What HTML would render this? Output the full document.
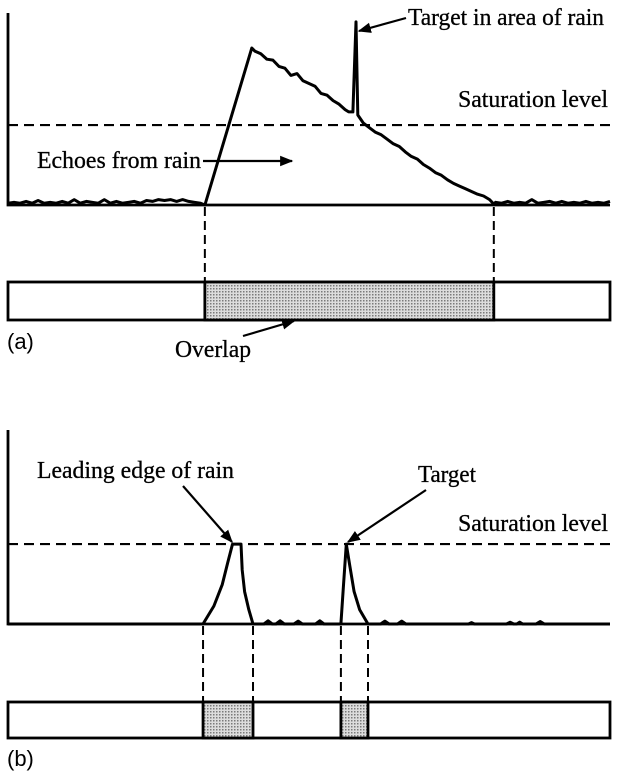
<!DOCTYPE html>
<html><head><meta charset="utf-8"><style>
html,body{margin:0;padding:0;background:#fff}
svg{display:block}
.s{font-family:"Liberation Serif",serif;font-size:24px;fill:#000;stroke:#000;stroke-width:0.3}
.l{font-family:"Liberation Sans",sans-serif;font-size:22px;fill:#000}
</style></head><body>
<svg id="c" width="618" height="771" viewBox="0 0 618 771">
<defs>
<pattern id="dots" width="3" height="3" patternUnits="userSpaceOnUse"><rect width="3" height="3" fill="#dcdcdc"/><rect width="1.5" height="1.5" fill="#7a7a7a"/></pattern>
<marker id="ah" viewBox="0 0 10 10" refX="9" refY="5" markerWidth="6" markerHeight="6" orient="auto"><path d="M0,1 L10,5 L0,9 Z" fill="#000"/></marker>
</defs>
<g id="pa"></g>
<g id="pb"></g>
<text class="s" x="408" y="25" textLength="196" lengthAdjust="spacingAndGlyphs">Target in area of rain</text>
<line x1="406" y1="18" x2="359" y2="31" stroke="#000" stroke-width="2.2" marker-end="url(#ah)"/>
<text class="s" x="458" y="107" textLength="150" lengthAdjust="spacingAndGlyphs">Saturation level</text>
<text class="s" x="37" y="168" textLength="164" lengthAdjust="spacingAndGlyphs">Echoes from rain</text>
<line x1="203" y1="161" x2="292" y2="161" stroke="#000" stroke-width="2.2" marker-end="url(#ah)"/>
<text class="s" x="175" y="357" textLength="76" lengthAdjust="spacingAndGlyphs">Overlap</text>
<line x1="243" y1="336" x2="294" y2="321" stroke="#000" stroke-width="2.2" marker-end="url(#ah)"/>
<text class="l" x="7" y="349">(a)</text>
<text class="s" x="37" y="478" textLength="197" lengthAdjust="spacingAndGlyphs">Leading edge of rain</text>
<line x1="183" y1="486" x2="232" y2="542" stroke="#000" stroke-width="2.2" marker-end="url(#ah)"/>
<text class="s" x="418" y="482" textLength="58" lengthAdjust="spacingAndGlyphs">Target</text>
<line x1="426" y1="490" x2="348" y2="542" stroke="#000" stroke-width="2.2" marker-end="url(#ah)"/>
<text class="s" x="458" y="531" textLength="150" lengthAdjust="spacingAndGlyphs">Saturation level</text>
<text class="l" x="7" y="766">(b)</text>
</svg>
<script>
// ---- data (x: range units 0..100, y: echo amplitude units) ----
const saturationLevel = 44.4;
const echoAX = [0,1,2,3,4,5,6,7,8,9,10,11,12,13,14,15,16,17,18,19,20,21,22,23,24,25,26,27,28,29,30,31,32,32.7,40.5,41,42,43,44,45,46,47,48,49,50,51,52,53,54,55,56,56.6,57.3,57.8,58.1,59,60,61,62,63,64,65,66,67,68,69,70,71,72,73,74,75,76,77,78,79,80,80.7,81,82,83,84,85,86,87,88,89,90,91,92,93,94,95,96,97,98,99,100];
const echoAY = [1,1.5,1,2,1,2.5,1,1.5,1,2,1,3,1,2,1.5,1,3,1,2,1,1.5,2,1,2.5,2,3,2.5,3,2,3,2,1.5,1,0,87.2,85.5,84,81,80.5,77,76,72,73,69,67.5,66,62,61,58,56,53,51.7,51.7,101.7,50,45.6,43,40.5,39,36.5,34,32.5,29.5,27,25.5,22.5,20.5,18,16.5,14,12,10.5,9,7.5,6,5,3,0.5,1.5,1,2,1,1.5,1,3,1,1.5,2,1,2,1,1.5,1,2,1,1.5,1,2];
const overlapA = [[32.7,80.7]];
const echoBX = [0,32.4,34.2,35.6,36.5,37.3,38.7,38.9,39.3,40,40.7,42.5,43.2,43.9,44.5,45.2,45.9,47.5,48.2,48.9,51.1,51.8,52.5,55.3,55.7,56.2,56.8,57.5,58.4,59.8,61.9,62.6,63.3,64.7,65.4,66.1,76.5,77,77.5,82.8,83.4,84,84.5,85,85.5,87.7,88.4,89.1,100];
const echoBY = [0,0,10,22,34,44.4,44.4,30,18,8,0,0,1.8,0,0,1.8,0,0,1.6,0,0,1.8,0,0,20,44.4,32,18,8,0,0,1.6,0,0,1.6,0,0,0.8,0,0,1,0,0,1,0,0,1.4,0,0];
const overlapB = [[32.4,40.7],[55.3,59.8]];

const X = v => 8 + v*6.02;
function panel(g, base, top, barTop, barBot, xs, ys, overlaps){
  const Y = v => base - v*1.8;
  const ns='http://www.w3.org/2000/svg';
  const mk=(t,a)=>{const e=document.createElementNS(ns,t);for(const k in a)e.setAttribute(k,a[k]);g.appendChild(e);return e;};
  const ax=mk('path',{d:`M8,${top} L8,${base} L610,${base}`,fill:'none',stroke:'#000','stroke-width':2.8});
  
  
  const sat=mk('line',{x1:8,x2:612,y1:Y(saturationLevel),y2:Y(saturationLevel),stroke:'#000','stroke-width':2.2,'stroke-dasharray':'10,6'});
  
  
  const bar=mk('rect',{x:8,y:barTop,width:602,height:barBot-barTop,fill:'#fff',stroke:'#000','stroke-width':2.8});
  
  
  overlaps.forEach(o=>{
    const r=mk('rect',{x:X(o[0]),y:barTop,width:X(o[1])-X(o[0]),height:barBot-barTop,fill:'url(#dots)',stroke:'#000','stroke-width':2.8});
    
    
    o.forEach(v=>{
      const d=mk('line',{x1:X(v),x2:X(v),y1:base+2,y2:barTop,stroke:'#000','stroke-width':2,'stroke-dasharray':'9,5'});
      
      
    });
  });
  const p=mk('polyline',{points:xs.map((x,i)=>X(x).toFixed(1)+','+Y(ys[i]).toFixed(1)).join(' '),fill:'none',stroke:'#000','stroke-width':3,'stroke-linejoin':'round'});
  
  
}
panel(document.getElementById('pa'),205,13,282,320,echoAX,echoAY,overlapA);
panel(document.getElementById('pb'),624,430,702,738,echoBX,echoBY,overlapB);
</script>
</body></html>
